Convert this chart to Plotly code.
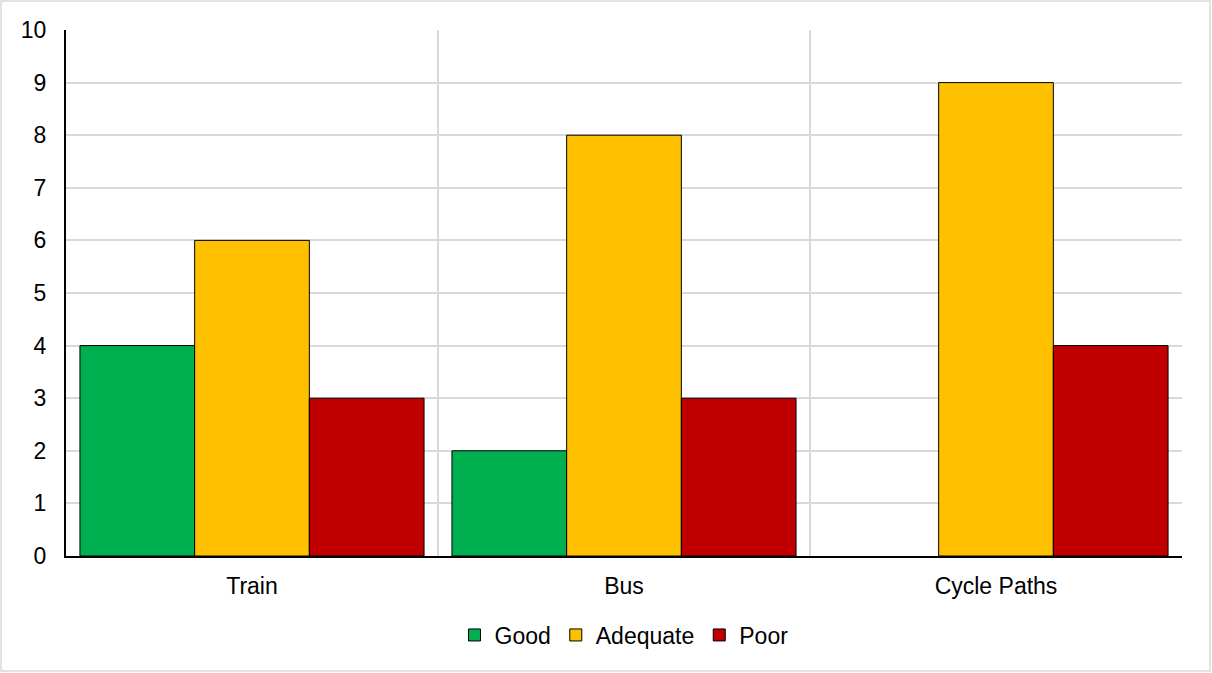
import plotly.graph_objects as go

categories = ["Train", "Bus", "Cycle Paths"]
good = [4, 2, 0]
adequate = [6, 8, 9]
poor = [3, 3, 4]
y_ticks = list(range(0, 11))

series = [
    ("Good", good, "#00B050"),
    ("Adequate", adequate, "#FFC000"),
    ("Poor", poor, "#C00000"),
]

fig = go.Figure()
for name, vals, color in series:
    fig.add_trace(go.Bar(
        name=name, x=categories, y=vals,
        marker=dict(color=color,
                    line=dict(color="black", width=[1 if v > 0 else 0 for v in vals])),
    ))

W, H = 1212, 673
ml, mr, mt, mb = 66, 30, 30, 117
pw, ph = W - ml - mr, H - mt - mb

fig.update_layout(
    width=W, height=H,
    margin=dict(l=ml, r=mr, t=mt, b=mb, pad=0),
    barmode="group", bargap=0.075, bargroupgap=0,
    plot_bgcolor="white", paper_bgcolor="white",
    font=dict(family="Liberation Sans, Arial, sans-serif", size=23, color="black"),
    legend=dict(orientation="h", x=0.5, xanchor="center",
                y=(ph - (635 - mt)) / ph, yanchor="middle",
                font=dict(size=23), itemwidth=30, traceorder="normal"),
    showlegend=True,
)
fig.update_xaxes(
    showline=True, linecolor="black", linewidth=2,
    tickson="boundaries", showgrid=True, gridcolor="#D9D9D9", gridwidth=1.5,
    ticks="", ticklabelstandoff=8,
)
fig.update_yaxes(
    range=[0, 10], tickvals=y_ticks, showline=True, linecolor="black", linewidth=2,
    showgrid=True, gridcolor="#D9D9D9", gridwidth=1.5, ticks="",
    ticklabelstandoff=13, zeroline=False,
)
# outer chart border
fig.add_shape(type="rect", xref="paper", yref="paper",
              x0=(1 - ml) / pw, x1=(W - 2 - ml) / pw,
              y0=(ph - (H - 2 - mt)) / ph, y1=(ph - (1 - mt)) / ph,
              line=dict(color="#D9D9D9", width=1.5), layer="below")

fig.write_html("out.html", config={"displayModeBar": False},
               post_script="document.body.style.margin='0';")
